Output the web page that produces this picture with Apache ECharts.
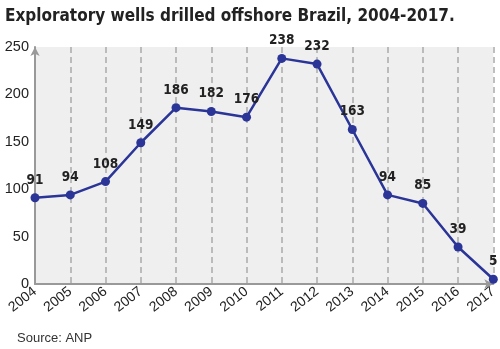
<!DOCTYPE html>
<html><head><meta charset="utf-8">
<script src="https://cdn.jsdelivr.net/npm/echarts@6/dist/echarts.min.js"></script>
<style>html,body{margin:0;padding:0;background:#fff}#c{width:500px;height:349px}</style>
</head><body><div id="c"></div>
<script>
var years = ['2004','2005','2006','2007','2008','2009','2010','2011','2012','2013','2014','2015','2016','2017'];
var wells = [91,94,108,149,186,182,176,238,232,163,94,85,39,5];
var yTicks = [0,50,100,150,200,250];
var chart = echarts.init(document.getElementById('c'), null, {renderer:'canvas'});
chart.setOption({
  animation:false,
  title:[{text:'Exploratory wells drilled offshore Brazil, 2004-2017.',left:0,top:3,
    textStyle:{fontFamily:'DejaVu Sans Condensed, sans-serif',fontWeight:'bold',fontSize:17,color:'#222'}},
    {text:'Source: ANP',left:12,top:327,textStyle:{fontFamily:'Liberation Sans, Arial, sans-serif',fontWeight:'normal',fontSize:13,color:'#333'}}],
  grid:{left:35,right:4,top:47,bottom:65,show:true,backgroundColor:'#efefef',borderWidth:0},
  xAxis:{type:'category',data:years,boundaryGap:false,
    axisLine:{show:true,symbol:['none','arrow'],symbolSize:[7,9],lineStyle:{color:'#999',width:2}},
    axisTick:{show:false},
    axisLabel:{rotate:38,color:'#222',fontSize:14,fontFamily:'Liberation Sans, Arial, sans-serif',margin:6},
    splitLine:{show:true,lineStyle:{type:[6,4],color:'#aaa',width:1.5}}},
  yAxis:{type:'value',min:0,max:250,interval:50,
    axisLine:{show:true,symbol:['none','arrow'],symbolSize:[7,9],lineStyle:{color:'#999',width:2}},
    axisTick:{show:false},splitLine:{show:false},
    axisLabel:{color:'#222',fontSize:14.5,fontFamily:'Liberation Sans, Arial, sans-serif',margin:6,
      formatter:function(v){return yTicks.indexOf(v)>=0?String(v):'';}}},
  series:[{type:'line',data:wells,symbol:'circle',symbolSize:9,
    lineStyle:{color:'#2a3597',width:2.5},itemStyle:{color:'#2a3597'},
    label:{show:true,position:'top',distance:6,color:'#222',fontWeight:'bold',fontSize:13.5,
      fontFamily:'DejaVu Sans Condensed, sans-serif'}}]
});
</script></body></html>
